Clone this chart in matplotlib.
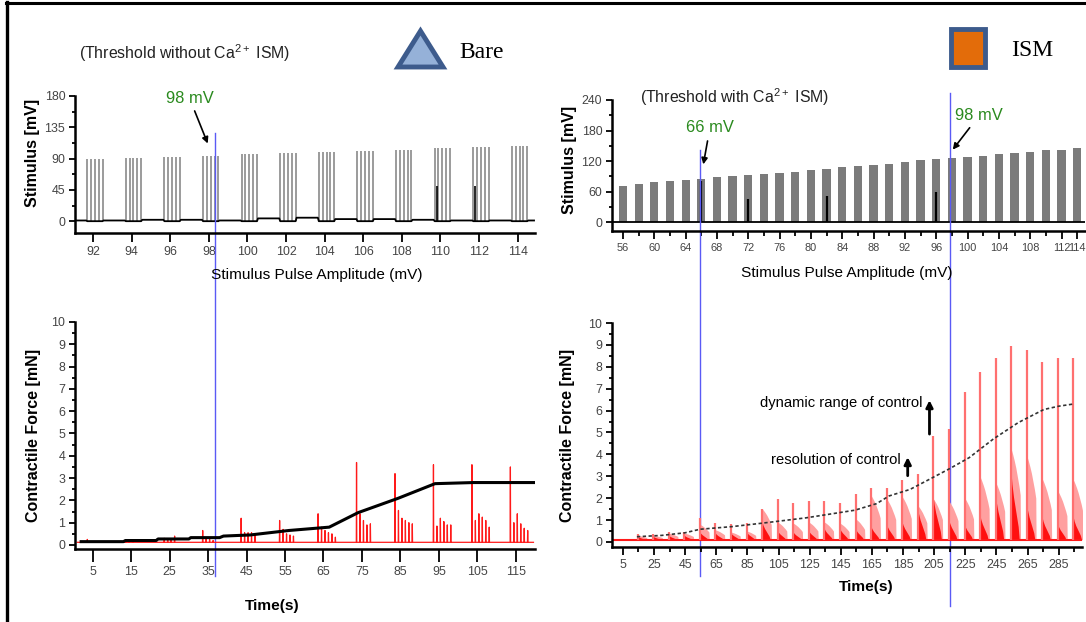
import numpy as np
import matplotlib
matplotlib.use("Agg")
import matplotlib.pyplot as plt
from matplotlib import font_manager
from matplotlib.lines import Line2D
from matplotlib.patches import Polygon, Rectangle
from matplotlib.ticker import MultipleLocator, FixedLocator

W, H = 1086, 622

# ---------------- data ----------------
# bare electrode: pulse trains per stimulus amplitude (top left)
bare_amp = [92, 94, 96, 98, 100, 102, 104, 106, 108, 110, 112, 114]
bare_stim = [89, 91, 92, 94, 96, 98, 99, 101, 103, 105, 107, 108]
bare_pulse_offset = [-0.3, -0.1, 0.1, 0.3, 0.5]
bare_base = [1, 2, 2, 1, 4, 5, 3, 3, 2, 1, 1, 1]
bare_glitch_amp = [109.8, 111.8]
bare_glitch_val = [50, 50]

# ISM electrode: stimulus per amplitude step (top right)
ism_amp = [56, 58, 60, 62, 64, 66, 68, 70, 72, 74, 76, 78, 80, 82, 84,
           86, 88, 90, 92, 94, 96, 98, 100, 102, 104, 106, 108, 110, 112, 114]
ism_stim = [71, 75, 78, 80, 82, 85, 89, 90, 93, 95, 97, 99, 103, 105, 108,
            111, 113, 115, 118, 121, 123, 126, 128, 130, 133, 135, 137, 141, 142, 146]
ism_glitch_amp = [66, 72, 82, 96]
ism_glitch_val = [80, 45, 52, 60]

# bare electrode: contractile force bursts (bottom left)
bare_onset = [3.6, 13.6, 23.6, 33.6, 43.6, 53.6, 63.6, 73.6, 83.6, 93.6, 103.6, 113.6]
bare_peaks = [
    [0.25, 0.15],
    [0.22, 0.18, 0.15],
    [0.3, 0.25, 0.25, 0.4],
    [0.65, 0.3, 0.25, 0.2],
    [1.2, 0.55, 0.55, 0.55, 0.5],
    [1.1, 0.7, 0.5, 0.45, 0.4],
    [1.4, 0.8, 0.65, 0.55, 0.5, 0.35],
    [3.7, 1.4, 1.1, 0.9, 0.95],
    [3.2, 1.55, 1.2, 1.1, 1.0, 0.95],
    [3.6, 0.85, 1.2, 1.05, 0.9, 0.9],
    [3.6, 1.1, 1.4, 1.25, 1.1, 0.8],
    [3.5, 1.0, 1.4, 0.95, 0.75, 0.65],
]
bare_gap = 0.9
bare_rest = 0.12
bare_span = [1.0, 119.6]
bare_trend_t = [2, 13, 13.5, 21.5, 22, 30, 30.5, 38, 39, 46, 56, 66.5, 74, 84.5, 94, 104, 121]
bare_trend_v = [0.15, 0.15, 0.2, 0.2, 0.27, 0.27, 0.33, 0.33, 0.4, 0.45, 0.65, 0.8,
                1.45, 2.1, 2.75, 2.8, 2.8]

# ISM electrode: contractile force bursts (bottom right)
ism_onset = [14.5, 24.5, 34.5, 44.5, 54.5, 64.5, 74.5, 84.5, 94.5, 104.5, 114.5,
             124.5, 134.5, 144.5, 154.5, 164.5, 174.5, 184.5, 194.5, 204.5, 214.5,
             224.5, 234.5, 244.5, 254.5, 264.5, 274.5, 284.5, 294.5]
ism_peak = [0.35, 0.35, 0.45, 0.45, 1.1, 0.85, 0.8, 0.85, 1.5, 1.95, 1.8, 1.85,
            1.85, 1.8, 2.2, 2.45, 2.45, 2.85, 3.1, 4.85, 5.15, 6.85, 7.75, 8.4,
            8.95, 8.75, 8.2, 8.4, 8.4]
ism_env = [0.2, 0.2, 0.3, 0.3, 0.7, 0.45, 0.35, 0.4, 1.4, 0.8, 0.75, 0.8, 0.8,
           0.75, 0.95, 2.0, 1.85, 1.95, 1.55, 1.85, 1.75, 1.9, 2.85, 2.6, 4.1,
           3.8, 2.75, 2.2, 2.7]
ism_core = [0.15, 0.15, 0.2, 0.2, 0.35, 0.3, 0.3, 0.35, 0.8, 0.4, 0.35, 0.4, 0.5,
            0.5, 0.5, 0.6, 0.7, 0.8, 1.4, 1.9, 0.9, 0.7, 1.1, 2.0, 3.0, 1.6, 1.0,
            0.7, 1.0]
# relative envelope shape of one burst (time after the main spike, fraction)
env_off = [0, 0.2, 1, 2, 3, 4, 5, 5.8, 6.0]
env_shape = [1, 1, 0.95, 0.88, 0.8, 0.7, 0.6, 0.5, 0]
core_off = [-0.3, 0, 0.5, 1.5, 2.5, 3.5, 4.5, 5.2]
core_shape = [0, 1, 0.85, 0.65, 0.5, 0.35, 0.2, 0]
ism_rest = 0.1
ism_span = [-2, 300]
ism_trend_t = [14, 30, 45, 54.5, 75, 93.5, 122.5, 154, 168, 176, 189.5, 203,
               215, 227.5, 243, 259, 275.5, 285, 294.5]
ism_trend_v = [0.24, 0.3, 0.42, 0.58, 0.7, 0.85, 1.1, 1.45, 1.75, 2.1, 2.4, 2.9,
               3.35, 3.85, 4.7, 5.45, 6.05, 6.2, 6.3]

# threshold markers
bare_thr = 98.3
ism_thr = [65.9, 97.8]

# ---------------- fonts ----------------
names = {f.name for f in font_manager.fontManager.ttflist}
NARROW = 'Liberation Sans Narrow' if 'Liberation Sans Narrow' in names else 'Liberation Sans'
NS = 1.0 if NARROW.endswith('Narrow') else 0.85
plt.rcParams['font.family'] = [NARROW, 'DejaVu Sans']
plt.rcParams['mathtext.fontset'] = 'custom'
plt.rcParams['mathtext.rm'] = NARROW
plt.rcParams['mathtext.it'] = NARROW
plt.rcParams['mathtext.bf'] = NARROW

GREEN = '#2a8a1e'
BLUE = '#5a5af5'
TICKC = '#444444'

fig = plt.figure(figsize=(W / 100, H / 100), dpi=100)


def make_axes(l, t, r, b):
    return fig.add_axes([l / W, 1 - b / H, (r - l) / W, (b - t) / H])


def style(ax):
    for s in ['top', 'right']:
        ax.spines[s].set_visible(False)
    for s in ['left', 'bottom']:
        ax.spines[s].set_linewidth(1.8)
    ax.tick_params(which='both', direction='out', labelcolor=TICKC,
                   labelsize=10.5 * NS, width=1.3)
    ax.tick_params(axis='y', which='major', length=4, pad=3)
    ax.tick_params(axis='y', which='minor', length=2.5)
    ax.patch.set_alpha(0)


def label(ax, x, y, s, **kw):
    ax.text(x, y, s, transform=ax.transAxes, ha='center', va='center',
            clip_on=False, **kw)


ax_tl = make_axes(75, 96, 535, 233)
ax_tr = make_axes(612, 100, 1085, 231)
ax_bl = make_axes(75, 322, 535, 549)
ax_br = make_axes(612, 323, 1082, 547)
for a in (ax_tl, ax_tr, ax_bl, ax_br):
    style(a)

# ---- top left: bare stimulus trains ----
for a, h in zip(bare_amp, bare_stim):
    ax_tl.vlines(a + np.array(bare_pulse_offset), 0, h, color='#808080', lw=1.1)
xs, ys = [91.1], [bare_base[0]]
for i, a in enumerate(bare_amp):
    s, e = a + bare_pulse_offset[0], a + bare_pulse_offset[-1]
    nxt = bare_amp[i + 1] + bare_pulse_offset[0] if i + 1 < len(bare_amp) else 114.9
    xs += [s - 0.05, s, e, e + 0.05, nxt - 0.05]
    ys += [ys[-1], 0, 0, bare_base[i], bare_base[i]]
ax_tl.plot(xs, ys, color='black', lw=1.3)
ax_tl.vlines(bare_glitch_amp, 0, bare_glitch_val, color='black', lw=1.2)
ax_tl.set_xlim(91.07, 114.9)
ax_tl.set_ylim(-17, 180)
ax_tl.set_xticks(bare_amp)
ax_tl.set_yticks([0, 45, 90, 135, 180])
ax_tl.yaxis.set_minor_locator(MultipleLocator(22.5))
ax_tl.tick_params(axis='x', length=6.5, pad=3)

# ---- top right: ISM stimulus bars ----
ax_tr.bar(ism_amp, ism_stim, width=1.05, color='#7b7b7b', edgecolor='none')
ax_tr.axhline(0, color='black', lw=1.3)
ax_tr.vlines(ism_glitch_amp, 0, ism_glitch_val, color='black', lw=1.6)
ax_tr.set_xlim(54.6, 115.0)
ax_tr.set_ylim(-17.7, 240)
major = [v for v in ism_amp if v % 4 == 0] + [114]
ax_tr.xaxis.set_major_locator(FixedLocator(major))
ax_tr.xaxis.set_minor_locator(FixedLocator([v for v in ism_amp if v not in major]))
ax_tr.set_yticks([0, 60, 120, 180, 240])
ax_tr.yaxis.set_minor_locator(MultipleLocator(30))
ax_tr.tick_params(axis='x', which='major', length=6, pad=3, labelsize=9.3 * NS)
ax_tr.tick_params(axis='x', which='minor', length=3.5)

# ---- bottom left: bare force ----
ts, vs = [bare_span[0]], [bare_rest]
for t0, hs in zip(bare_onset, bare_peaks):
    for k, h in enumerate(hs):
        t = t0 + k * bare_gap
        ts += [t - 0.06, t, t + 0.06]
        vs += [bare_rest, h, bare_rest]
ts.append(bare_span[1])
vs.append(bare_rest)
ax_bl.plot(ts, vs, color='#ff1a1a', lw=0.9)
ax_bl.plot(bare_trend_t, bare_trend_v, color='black', lw=2.2, solid_joinstyle='round')
ax_bl.set_xlim(0.4, 120)
ax_bl.set_ylim(-0.18, 10)
ax_bl.set_xticks(range(5, 116, 10))
ax_bl.set_yticks(range(0, 11))
ax_bl.yaxis.set_minor_locator(MultipleLocator(0.5))
ax_bl.tick_params(axis='x', length=9.5, pad=3)

# ---- bottom right: ISM force ----
ax_br.plot(ism_span, [ism_rest, ism_rest], color='#ff1a1a', lw=1.5)
for t0, pk, ev, co in zip(ism_onset, ism_peak, ism_env, ism_core):
    ax_br.fill_between(t0 + np.array(env_off), ism_rest,
                       ism_rest + ev * np.array(env_shape), color='#ffa0a0', lw=0)
    ax_br.fill_between(t0 + np.array(core_off), ism_rest,
                       ism_rest + co * np.array(core_shape), color='#ff1010', lw=0)
    ax_br.vlines(t0, ism_rest, pk, color='#ff7070', lw=1.6)
ax_br.plot(ism_trend_t, ism_trend_v, color='#333333', lw=1.2, ls=(0, (2, 1.5)))
ax_br.set_xlim(-2, 300)
ax_br.set_ylim(-0.23, 10)
ax_br.set_xticks(range(5, 286, 20))
ax_br.xaxis.set_minor_locator(FixedLocator(range(15, 296, 20)))
ax_br.set_yticks(range(0, 11))
ax_br.yaxis.set_minor_locator(MultipleLocator(0.5))
ax_br.tick_params(axis='x', which='major', length=6, pad=3)
ax_br.tick_params(axis='x', which='minor', length=3.5)

ax_br.annotate('', xy=(202, 6.6), xytext=(202, 4.8),
               arrowprops=dict(arrowstyle='-|>', color='black', lw=2, mutation_scale=10))
ax_br.text(197.6, 6.35, 'dynamic range of control', ha='right', va='center',
           fontsize=12.5 * NS)
ax_br.annotate('', xy=(188, 4.0), xytext=(188, 2.9),
               arrowprops=dict(arrowstyle='-|>', color='black', lw=2, mutation_scale=10))
ax_br.text(183.6, 3.75, 'resolution of control', ha='right', va='center',
           fontsize=12.5 * NS)

# ---- threshold markers ----
arrow = dict(arrowstyle='-|>', color='black', lw=1.2, mutation_scale=9, shrinkA=2)
ax_tl.annotate('98 mV', xy=(98.0, 108), xytext=(97.0, 177), color=GREEN,
               fontsize=14 * NS, ha='center', va='center', arrowprops=arrow,
               annotation_clip=False)
ax_tr.annotate('66 mV', xy=(66.2, 108), xytext=(67.1, 185), color=GREEN,
               fontsize=14 * NS, ha='center', va='center', arrowprops=arrow,
               annotation_clip=False)
ax_tr.annotate('98 mV', xy=(97.9, 138), xytext=(101.5, 210), color=GREEN,
               fontsize=14 * NS, ha='center', va='center', arrowprops=arrow,
               annotation_clip=False)

ax_tl.axvline(bare_thr, ymin=-2.5, ymax=0.73, color=BLUE, lw=1, clip_on=False)
ax_tr.axvline(ism_thr[0], ymin=-2.63, ymax=0.62, color=BLUE, lw=1, clip_on=False)
ax_tr.axvline(ism_thr[1], ymin=-2.86, ymax=1.05, color=BLUE, lw=1, clip_on=False)

# ---- axis labels ----
bold = dict(family=['Liberation Sans', 'DejaVu Sans'], fontweight='bold', fontsize=11.5)
label(ax_tl, -0.093, 0.584, 'Stimulus [mV]', rotation=90, **bold)
label(ax_tr, -0.089, 0.54, 'Stimulus [mV]', rotation=90, **bold)
label(ax_bl, -0.091, 0.50, 'Contractile Force [mN]', rotation=90, **bold)
label(ax_br, -0.094, 0.50, 'Contractile Force [mN]', rotation=90, **bold)
label(ax_tl, 0.526, -0.31, 'Stimulus Pulse Amplitude (mV)', fontsize=13 * NS)
label(ax_tr, 0.497, -0.32, 'Stimulus Pulse Amplitude (mV)', fontsize=13 * NS)
label(ax_bl, 0.428, -0.25, 'Time(s)', fontsize=13 * NS, fontweight='bold')
label(ax_br, 0.54, -0.18, 'Time(s)', fontsize=13 * NS, fontweight='bold')

# ---- headers and legend keys ----
fig.text(185 / W, 1 - 53 / H, r'(Threshold without Ca$^{2+}$ ISM)', ha='center',
         va='center', fontsize=13.5 * NS, color='#222222')
fig.text(735 / W, 1 - 97 / H, r'(Threshold with Ca$^{2+}$ ISM)', ha='center',
         va='center', fontsize=13.5 * NS, color='#222222')

tri = Polygon([(398 / W, 1 - 67 / H), (443 / W, 1 - 67 / H), (420.5 / W, 1 - 31 / H)],
              closed=True, transform=fig.transFigure, facecolor='#95b1d8',
              edgecolor='#3d5b8c', lw=3.5, joinstyle='miter')
fig.add_artist(tri)
sq = Rectangle((951 / W, 1 - 67 / H), 34 / W, 38 / H, transform=fig.transFigure,
               facecolor='#e36c0a', edgecolor='#3d5b8c', lw=3.5)
fig.add_artist(sq)
serif = dict(family=['Liberation Serif', 'DejaVu Serif'], fontsize=17, va='center')
fig.text(459 / W, 1 - 52 / H, 'Bare', ha='left', **serif)
fig.text(1011 / W, 1 - 50 / H, 'ISM', ha='left', **serif)

# frame around the figure
fig.add_artist(Line2D([6.5 / W, 6.5 / W], [0, 1 - 2 / H], transform=fig.transFigure,
                      color='black', lw=2.4))
fig.add_artist(Line2D([5.5 / W, 1], [1 - 3 / H, 1 - 3 / H], transform=fig.transFigure,
                      color='black', lw=2.2))

fig.savefig('out.png', dpi=100)
